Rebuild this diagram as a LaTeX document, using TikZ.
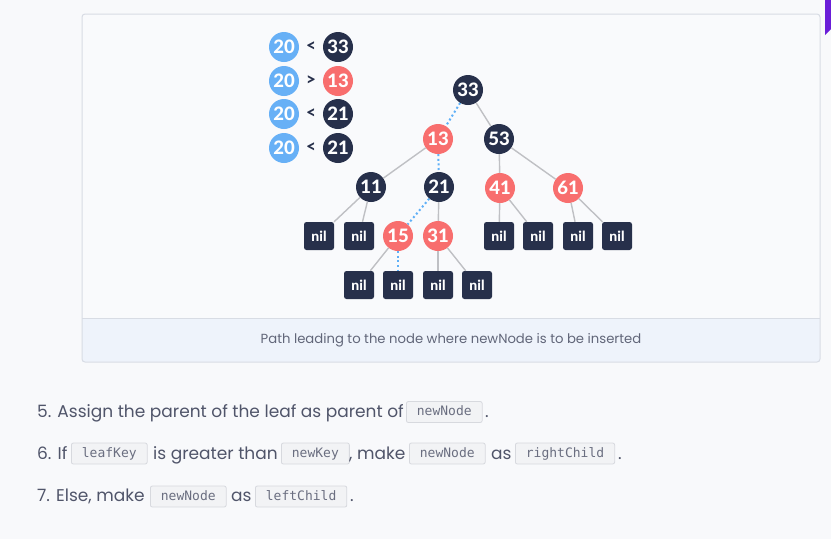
\documentclass[tikz,border=0pt]{standalone}
\usepackage{fontspec}
\setmainfont{Poppins}
\newfontfamily\numfont{Lato}[BoldFont={Lato Heavy}]
\setmonofont{DejaVu Sans Mono}

\definecolor{pagebg}{HTML}{F8F9FB}
\definecolor{panelbg}{HTML}{F9FAFC}
\definecolor{panelline}{HTML}{D8DCE4}
\definecolor{captionbg}{HTML}{EEF3FB}
\definecolor{navy}{HTML}{27304B}
\definecolor{salmon}{HTML}{F86E6E}
\definecolor{skyblue}{HTML}{67B0F6}
\definecolor{edgegray}{HTML}{BFC0C4}
\definecolor{pathblue}{HTML}{5FB0F7}
\definecolor{bodygray}{HTML}{50556A}
\definecolor{codefill}{HTML}{F2F3F5}
\definecolor{codeline}{HTML}{D7D9DE}
\definecolor{purpleedge}{HTML}{6A1ED8}

\newlength{\du}
\setlength{\du}{1pt}

\tikzset{
  darknode/.style={circle, fill=navy, text=white, minimum size=30\du, inner sep=0pt,
    font=\numfont\bfseries\fontsize{18.5}{18.5}\selectfont},
  rednode/.style={darknode, fill=salmon},
  bluenode/.style={darknode, fill=skyblue},
  nilbox/.style={rectangle, rounded corners=2.5\du, fill=navy, text=white,
    minimum width=30\du, minimum height=28\du, inner sep=0pt,
    font=\numfont\bfseries\fontsize{14}{14}\selectfont},
  cmpsign/.style={text=navy, inner sep=0pt, font=\numfont\bfseries\fontsize{17}{17}\selectfont},
  treeline/.style={draw=edgegray, line width=1.4\du},
  pathline/.style={draw=pathblue, line width=2\du, dash pattern=on 2\du off 2.6\du},
  bodytext/.style={text=bodygray, inner sep=0pt, font=\fontsize{17}{17}\selectfont},
  codebox/.style={rectangle, rounded corners=2\du, fill=codefill, draw=codeline, line width=0.8\du,
    text=bodygray!85, inner xsep=10.5\du, inner ysep=0pt, minimum height=21\du,
    text height=9.5\du, text depth=2.5\du, font=\ttfamily\fontsize{13}{13}\selectfont},
  captiontext/.style={text=bodygray!90, inner sep=0pt, font=\fontsize{13.2}{13.2}\selectfont}
}

\begin{document}
\begin{tikzpicture}
\pgftransformyscale{-1.000000}
\useasboundingbox (0\du,0\du) rectangle (831\du,539\du);
\fill[pagebg] (0\du,0\du) rectangle (831\du,539\du);
% purple corner
\fill[purpleedge] (825\du,0\du)--(831\du,0\du)--(831\du,29\du)--(825\du,35\du)--cycle;
% panel
\fill[panelbg] (82\du,14\du) rectangle (820\du,362\du);
\fill[captionbg] (82\du,318\du) rectangle (820\du,362\du);
\draw[panelline, line width=1\du] (82\du,318\du)--(820\du,318\du);
\draw[panelline, line width=1\du, rounded corners=3\du] (82\du,14\du) rectangle (820\du,362\du);
\node[captiontext] (caption) at (451\du,340\du) {Path leading to the node where newNode is to be inserted};

% comparisons
\node[bluenode] (cmpa) at (284\du,47\du) {20};
\node[cmpsign] (signa) at (311\du,47\du) {<};
\node[darknode] (cmpb) at (338\du,47\du) {33};
\node[bluenode] (cmpc) at (284\du,81\du) {20};
\node[cmpsign] (signb) at (311\du,81\du) {>};
\node[rednode] (cmpd) at (338\du,81\du) {13};
\node[bluenode] (cmpe) at (284\du,114\du) {20};
\node[cmpsign] (signc) at (311\du,114\du) {<};
\node[darknode] (cmpf) at (338\du,114\du) {21};
\node[bluenode] (cmpg) at (284\du,148\du) {20};
\node[cmpsign] (signd) at (311\du,148\du) {<};
\node[darknode] (cmph) at (338\du,148\du) {21};

% tree
\node[darknode] (n33) at (468\du,90\du) {33};
\node[rednode] (n13) at (438\du,139\du) {13};
\node[darknode] (n53) at (499\du,139\du) {53};
\node[darknode] (n11) at (371\du,187\du) {11};
\node[darknode] (n21) at (439\du,187\du) {21};
\node[rednode] (n41) at (500\du,188\du) {41};
\node[rednode] (n61) at (568\du,188\du) {61};
\node[nilbox] (nila) at (319\du,236\du) {nil};
\node[nilbox] (nilb) at (359\du,236\du) {nil};
\node[rednode] (n15) at (398\du,236\du) {15};
\node[rednode] (n31) at (438\du,236\du) {31};
\node[nilbox] (nilc) at (499\du,236\du) {nil};
\node[nilbox] (nild) at (538\du,236\du) {nil};
\node[nilbox] (nile) at (578\du,236\du) {nil};
\node[nilbox] (nilf) at (617\du,236\du) {nil};
\node[nilbox] (nilg) at (359\du,285\du) {nil};
\node[nilbox] (nilh) at (398\du,285\du) {nil};
\node[nilbox] (nili) at (438\du,285\du) {nil};
\node[nilbox] (nilj) at (477\du,285\du) {nil};

\draw[treeline] (n33)--(n53);
\draw[treeline] (n13)--(n11);
\draw[treeline] (n11)--(nila);
\draw[treeline] (n11)--(nilb);
\draw[treeline] (n21)--(n31);
\draw[treeline] (n15)--(nilg);
\draw[treeline] (n31)--(nili);
\draw[treeline] (n31)--(nilj);
\draw[treeline] (n53)--(n41);
\draw[treeline] (n53)--(n61);
\draw[treeline] (n41)--(nilc);
\draw[treeline] (n41)--(nild);
\draw[treeline] (n61)--(nile);
\draw[treeline] (n61)--(nilf);
% search path
\draw[pathline] (n33)--(n13);
\draw[pathline] (n13)--(n21);
\draw[pathline] (n21)--(n15);
\draw[pathline] (n15)--(nilh);

% steps below
\node[bodytext, anchor=base west] (stepa) at (37\du,417\du) {5. Assign the parent of the leaf as parent of};
\node[codebox, anchor=west] (stepacode) at (406\du,412\du) {newNode};
\node[bodytext, anchor=base west] (stepadot) at (485\du,417\du) {.};

\node[bodytext, anchor=base west] (stepb) at (37\du,459\du) {6. If};
\node[codebox, anchor=west] (stepbcodea) at (71\du,453.5\du) {leafKey};
\node[bodytext, anchor=base west] (stepbtexta) at (153\du,459\du) {is greater than};
\node[codebox, anchor=west] (stepbcodeb) at (281\du,453.5\du) {newKey};
\node[bodytext, anchor=base west] (stepbtextb) at (349\du,459\du) {, make};
\node[codebox, anchor=west] (stepbcodec) at (409\du,453.5\du) {newNode};
\node[bodytext, anchor=base west] (stepbtextc) at (491\du,459\du) {as};
\node[codebox, anchor=west] (stepbcoded) at (515\du,453.5\du) {rightChild};
\node[bodytext, anchor=base west] (stepbdot) at (618\du,459\du) {.};

\node[bodytext, anchor=base west] (stepc) at (37\du,501\du) {7. Else, make};
\node[codebox, anchor=west] (stepccodea) at (150\du,496.5\du) {newNode};
\node[bodytext, anchor=base west] (stepctext) at (231\du,501\du) {as};
\node[codebox, anchor=west] (stepccodeb) at (255\du,496.5\du) {leftChild};
\node[bodytext, anchor=base west] (stepcdot) at (350\du,501\du) {.};
\end{tikzpicture}
\end{document}
